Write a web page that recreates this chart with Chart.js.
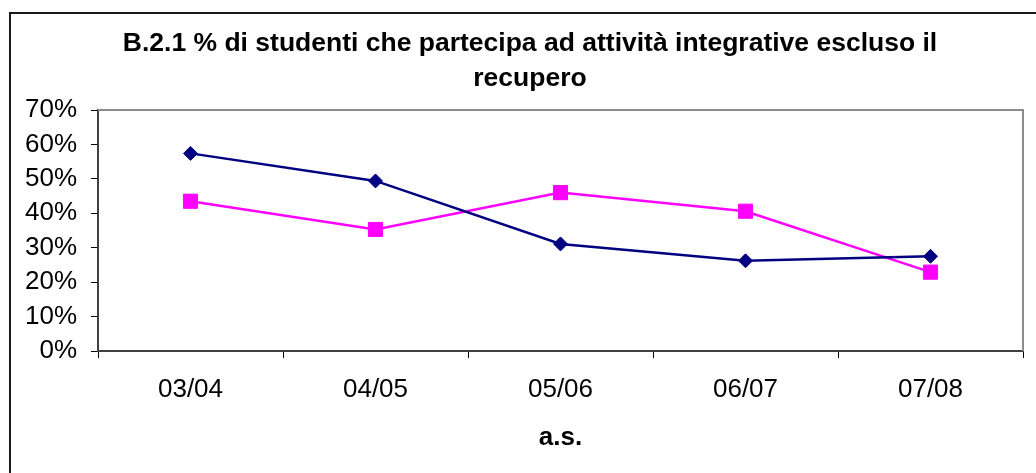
<!DOCTYPE html>
<html>
<head>
<meta charset="utf-8">
<script src="https://cdn.jsdelivr.net/npm/chart.js@4"></script>
<style>
  html, body { margin: 0; padding: 0; background: #fff; overflow: hidden; }
  #wrap { position: relative; width: 1036px; height: 473px; }
  #frame { position: absolute; left: 9px; top: 12px; width: 1100px; height: 520px; border: 2px solid #1a1a1a; box-sizing: border-box; }
  #chart { position: absolute; left: 0; top: 0; }
</style>
</head>
<body>
<div id="wrap">
  <div id="frame"></div>
  <canvas id="chart" width="1036" height="473"></canvas>
</div>
<script>
// anni scolastici
var categories = ['03/04', '04/05', '05/06', '06/07', '07/08'];
// serie (valori in %)
var seriesA = [57.4, 49.4, 31.1, 26.2, 27.5];
var seriesB = [43.5, 35.3, 46.0, 40.6, 22.9];
var yTicks = [0, 10, 20, 30, 40, 50, 60, 70];

var titleLines = ['B.2.1 % di studenti che partecipa ad attività integrative escluso il', 'recupero'];

Chart.defaults.font.family = "'Liberation Sans', Arial, sans-serif";
Chart.defaults.color = '#000';

// plot area border (top + right, grey like the old Excel charts)
var plotBorder = {
    id: 'plotBorder',
    afterLayout: function(chart) {
        // title is centred a bit right of the canvas centre in the original
        if (chart.titleBlock) {
            chart.titleBlock.left = 37;
        }
    },
    beforeDatasetsDraw: function(chart) {
        var a = chart.chartArea;
        var ctx = chart.ctx;
        ctx.save();
        ctx.strokeStyle = '#8c8c8c';
        ctx.lineWidth = 2;
        ctx.beginPath();
        ctx.moveTo(a.left, a.top);
        ctx.lineTo(a.right, a.top);
        ctx.lineTo(a.right, a.bottom);
        ctx.stroke();
        ctx.restore();
    }
};

var ctx = document.getElementById('chart').getContext('2d');
var myChart = new Chart(ctx, {
    type: 'line',
    data: {
        labels: categories,
        datasets: [{
            data: seriesA,
            borderColor: '#000080',
            backgroundColor: '#000080',
            borderWidth: 2.5,
            pointStyle: 'rectRot',
            pointRadius: 7,
            pointBorderWidth: 1,
            tension: 0
        }, {
            data: seriesB,
            borderColor: '#ff00ff',
            backgroundColor: '#ff00ff',
            borderWidth: 2.5,
            pointStyle: 'rect',
            pointRadius: 10,
            pointBorderWidth: 1,
            tension: 0
        }]
    },
    options: {
        responsive: false,
        animation: false,
        layout: { padding: { left: 0, right: 13, top: 0, bottom: 0 } },
        plugins: {
            legend: { display: false },
            tooltip: { enabled: false },
            title: {
                display: true,
                text: titleLines,
                color: '#000',
                font: { size: 26.5, weight: 'bold', lineHeight: 35 / 26.5 },
                padding: { top: 26, bottom: 14 }
            }
        },
        scales: {
            x: {
                offset: true,
                grid: { offset: true, drawOnChartArea: false, drawTicks: true, tickLength: 7, color: '#000', lineWidth: 1 },
                border: { color: '#404040', width: 2 },
                ticks: { font: { size: 26 }, color: '#000', padding: 16 },
                title: { display: true, text: 'a.s.', font: { size: 26, weight: 'bold' }, color: '#000', padding: { top: 0, bottom: 20 } },
                afterFit: function(scale) { scale.height = 122; }
            },
            y: {
                min: 0,
                max: 70,
                afterBuildTicks: function(scale) {
                    scale.ticks = yTicks.map(function(v) { return { value: v }; });
                },
                grid: { drawOnChartArea: false, drawTicks: true, tickLength: 7, color: '#000', lineWidth: 1 },
                border: { color: '#404040', width: 2 },
                ticks: {
                    font: { size: 26 },
                    color: '#000',
                    padding: 14,
                    callback: function(value) { return value + '%'; }
                },
                afterFit: function(scale) { scale.width = 98; }
            }
        }
    },
    plugins: [plotBorder]
});
</script>
</body>
</html>
